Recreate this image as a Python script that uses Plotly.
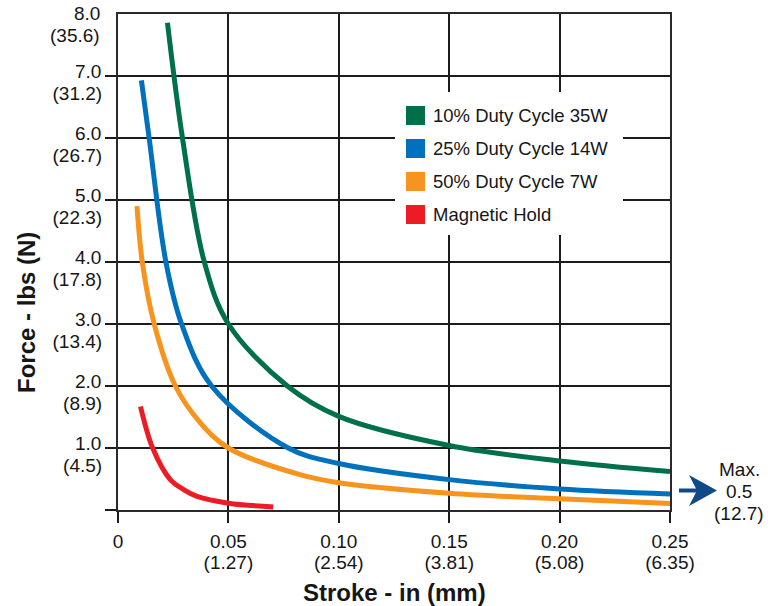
import plotly.graph_objects as go

# ---------------- data ----------------
series_names = ["10% Duty Cycle 35W", "25% Duty Cycle 14W", "50% Duty Cycle 7W", "Magnetic Hold"]
series_colors = ["#00704a", "#0071bc", "#f7941d", "#ed1c24"]

green_x = [0.0224, 0.0292, 0.0391, 0.05, 0.0767, 0.10, 0.15, 0.20, 0.25]
green_y = [7.86, 6.0, 4.0, 3.0, 2.0, 1.51, 1.04, 0.79, 0.62]

blue_x = [0.0106, 0.0141, 0.0217, 0.0288, 0.0424, 0.0771, 0.10, 0.15, 0.20, 0.25]
blue_y = [6.93, 6.0, 4.0, 3.0, 2.0, 1.0, 0.75, 0.49, 0.34, 0.26]

orange_x = [0.0086, 0.011, 0.0164, 0.026, 0.0372, 0.05, 0.0824, 0.10, 0.15, 0.20, 0.25]
orange_y = [4.90, 4.0, 3.0, 2.0, 1.41, 1.0, 0.57, 0.44, 0.27, 0.18, 0.105]

red_x = [0.0102, 0.0157, 0.0237, 0.0297, 0.0358, 0.05, 0.0703]
red_y = [1.67, 1.0, 0.49, 0.33, 0.22, 0.11, 0.05]

x_tickvals = [0, 0.05, 0.10, 0.15, 0.20, 0.25]
x_tick_in = ["0", "0.05", "0.10", "0.15", "0.20", "0.25"]
x_tick_mm = ["", "(1.27)", "(2.54)", "(3.81)", "(5.08)", "(6.35)"]

y_tickvals = [0, 1, 2, 3, 4, 5, 6, 7, 8]
y_tick_lbs = ["", "1.0", "2.0", "3.0", "4.0", "5.0", "6.0", "7.0", "8.0"]
y_tick_n = ["", "(4.5)", "(8.9)", "(13.4)", "(17.8)", "(22.3)", "(26.7)", "(31.2)", "(35.6)"]

max_note = ["Max.", "0.5", "(12.7)"]
x_title = "Stroke - in (mm)"
y_title = "Force - lbs (N)"

# ---------------- layout constants ----------------
W, H = 768, 606
L, R, T, B = 118, 98, 14, 96
PW, PH = W - L - R, H - T - B
FONT = "Liberation Sans, Arial, Helvetica, sans-serif"
TXT = "#161616"
FS = 19
GRID = "#1c1c1c"


def px(xp):
    return (xp - L) / PW


def py(yp):
    return (H - B - yp) / PH


fig = go.Figure()
for xs, ys, name, col in zip([green_x, blue_x, orange_x, red_x],
                             [green_y, blue_y, orange_y, red_y],
                             series_names, series_colors):
    fig.add_trace(go.Scatter(x=xs, y=ys, mode="lines", name=name,
                             line=dict(color=col, width=5, shape="spline", smoothing=1.0),
                             showlegend=False, hoverinfo="x+y+name"))

# invisible helpers so the secondary (unit-conversion) label axes are drawn
fig.add_trace(go.Scatter(x=[0.1], y=[1], xaxis="x2", yaxis="y", mode="markers",
                         marker=dict(opacity=0), showlegend=False, hoverinfo="skip"))
fig.add_trace(go.Scatter(x=[0.1], y=[1], xaxis="x", yaxis="y2", mode="markers",
                         marker=dict(opacity=0), showlegend=False, hoverinfo="skip"))

tfont = dict(family=FONT, size=FS, color=TXT)
main_axis = dict(showgrid=True, gridcolor=GRID, gridwidth=1.5,
                 showline=True, linecolor="#2a2a2a", linewidth=1.8, mirror=True,
                 ticks="outside", ticklen=11, tickwidth=1.5, tickcolor=GRID,
                 zeroline=False, tickfont=tfont, automargin=False,
                 ticklabeloverflow="allow", tickmode="array")
label_axis = dict(showgrid=False, showline=False, zeroline=False, ticks="outside",
                  ticklen=11, tickwidth=1, tickcolor="rgba(0,0,0,0)", tickfont=tfont,
                  automargin=False, ticklabeloverflow="allow", tickmode="array")

fig.update_layout(
    width=W, height=H,
    margin=dict(l=L, r=R, t=T, b=B, pad=0, autoexpand=False),
    paper_bgcolor="white", plot_bgcolor="white",
    showlegend=False,
    xaxis=dict(range=[0, 0.25], tickvals=x_tickvals, ticktext=x_tick_in,
               ticklabelstandoff=2, **main_axis),
    # the top value (8.0) is the plot border: no tick mark, its label is placed below
    yaxis=dict(range=[0, 8], tickvals=y_tickvals[:-1], ticktext=y_tick_lbs[:-1],
               ticklabelstandoff=0, ticklabelshift=-5, **main_axis),
    xaxis2=dict(range=[0, 0.25], overlaying="x", side="bottom", anchor="y",
                tickvals=x_tickvals, ticktext=x_tick_mm, ticklabelstandoff=24, **label_axis),
    yaxis2=dict(range=[0, 8], overlaying="y", side="left", anchor="x",
                tickvals=y_tickvals[:-1], ticktext=y_tick_n[:-1], ticklabelstandoff=0,
                ticklabelshift=17, **label_axis),
)

annotations = []
shapes = []

# top-of-axis label pair (sits slightly lower in the reference so it stays inside the frame)
annotations.append(dict(text=y_tick_lbs[-1], x=px(102), y=py(13), xref="paper", yref="paper",
                        xanchor="right", yanchor="middle", showarrow=False, font=tfont))
annotations.append(dict(text=y_tick_n[-1], x=px(102), y=py(35), xref="paper", yref="paper",
                        xanchor="right", yanchor="middle", showarrow=False, font=tfont))

# axis titles
annotations.append(dict(text=x_title, x=px(394), y=py(592), xref="paper", yref="paper",
                        xanchor="center", yanchor="middle", showarrow=False,
                        font=dict(family=FONT, size=24, color=TXT, weight="bold")))
annotations.append(dict(text=y_title, x=px(26), y=py(313), xref="paper", yref="paper",
                        xanchor="center", yanchor="middle", showarrow=False, textangle=-90,
                        font=dict(family=FONT, size=24, color=TXT, weight="bold")))

# manual legend: white box over the grid
shapes.append(dict(type="rect", xref="paper", yref="paper", x0=px(395), x1=px(623),
                   y0=py(235), y1=py(92), fillcolor="white", line=dict(width=0), layer="above"))
for i, (name, col) in enumerate(zip(series_names, series_colors)):
    cy = 115.5 + 33 * i
    shapes.append(dict(type="rect", xref="paper", yref="paper", x0=px(406), x1=px(425),
                       y0=py(cy + 9.5), y1=py(cy - 9.5), fillcolor=col,
                       line=dict(width=0), layer="above"))
    annotations.append(dict(text=name, x=px(431), y=py(cy), xref="paper", yref="paper",
                            xanchor="left", yanchor="middle", showarrow=False,
                            font=dict(family=FONT, size=18.5, color=TXT)))

# "Max." note with arrow
arrow_col = "#0d4a86"
shapes.append(dict(type="line", xref="paper", yref="paper", x0=px(679), x1=px(700),
                   y0=py(490.5), y1=py(490.5), line=dict(color=arrow_col, width=4), layer="above"))
shapes.append(dict(type="path", xref="paper", yref="paper",
                   path="M %f %f L %f %f L %f %f L %f %f Z" % (
                       px(689), py(475), px(717), py(490.5), px(689), py(506), px(697), py(490.5)),
                   fillcolor=arrow_col, line=dict(width=0), layer="above"))
for i, t in enumerate(max_note):
    annotations.append(dict(text=t, x=px(739), y=py(469 + 22 * i), xref="paper", yref="paper",
                            xanchor="center", yanchor="middle", showarrow=False, font=tfont))

fig.update_layout(annotations=annotations, shapes=shapes)
fig.write_html("out.html", config={"displayModeBar": False},
               post_script="document.body.style.margin='0';document.body.style.overflow='hidden';")
